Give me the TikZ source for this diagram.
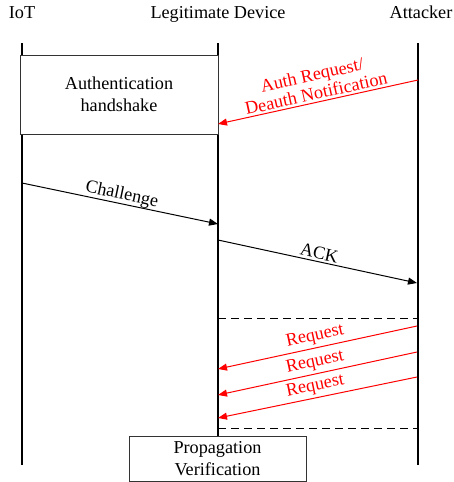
\documentclass[tikz,border=0pt]{standalone}
\usepackage{fontspec}
\setmainfont{Liberation Serif}
\usetikzlibrary{arrows.meta}
\begin{document}
\begin{tikzpicture}[x=1pt,y=-1pt,font=\fontsize{18.2}{22}\selectfont]
\tikzset{
  msg/.style={line width=1pt,-{Triangle[length=9pt,width=7pt]}},
  attack/.style={msg,red},
  lbl/.style={midway,sloped,above,inner sep=0pt},
  lifeline/.style={line width=1.3pt},
  dashline/.style={dash pattern=on 8pt off 5pt,line width=0.9pt},
  box/.style={draw=black!80,fill=white,align=center,line width=0.8pt}
}
\useasboundingbox (0,0) rectangle (453,482);
% headers
\node[anchor=base] (iotl) at (22,18) {IoT};
\node[anchor=base] (devl) at (218,18) {Legitimate Device};
\node[anchor=base] (attl) at (421,18) {Attacker};
% lifeline ends
\coordinate (iott) at (22,43);  \coordinate (iotb) at (22,465);
\coordinate (devt) at (218,43); \coordinate (devb) at (218,436);
\coordinate (attt) at (418,43); \coordinate (attb) at (418,465);
\draw[lifeline] (iott) -- (iotb);
\draw[lifeline] (devt) -- (devb);
\draw[lifeline] (attt) -- (attb);
% boxes
\node[box,minimum width=198pt,minimum height=79pt] (auth) at (119,94.5) {Authentication\\handshake};
\node[box,minimum width=177pt,minimum height=45pt] (prop) at (217.5,458.5) {Propagation\\Verification};
% message points
\coordinate (a1) at (418,80);  \coordinate (a2) at (218,124);
\coordinate (c1) at (22,183);  \coordinate (c2) at (218,224);
\coordinate (k1) at (218,240); \coordinate (k2) at (417,283);
\coordinate (r1a) at (417,326); \coordinate (r1b) at (218,369);
\coordinate (r2a) at (417,352); \coordinate (r2b) at (218,395);
\coordinate (r3a) at (417,377); \coordinate (r3b) at (218,418);
\coordinate (d1a) at (218,318); \coordinate (d1b) at (418,318);
\coordinate (d2a) at (218,428); \coordinate (d2b) at (418,428);
% messages
\draw[attack] (a1) -- (a2) node[lbl,align=center,inner sep=2pt,font=\fontsize{18.2}{19}\selectfont] {Auth Request/\\Deauth Notification};
\draw[msg] (c1) -- (c2) node[lbl] {Challenge};
\draw[msg] (k1) -- (k2) node[lbl,inner sep=2pt] {ACK};
\draw[dashline] (d1a) -- (d1b);
\draw[attack] (r1a) -- (r1b) node[lbl,inner sep=3pt] {Request};
\draw[attack] (r2a) -- (r2b) node[lbl,inner sep=3pt] {Request};
\draw[attack] (r3a) -- (r3b) node[lbl,inner sep=3pt] {Request};
\draw[dashline] (d2a) -- (d2b);
\end{tikzpicture}
\end{document}
